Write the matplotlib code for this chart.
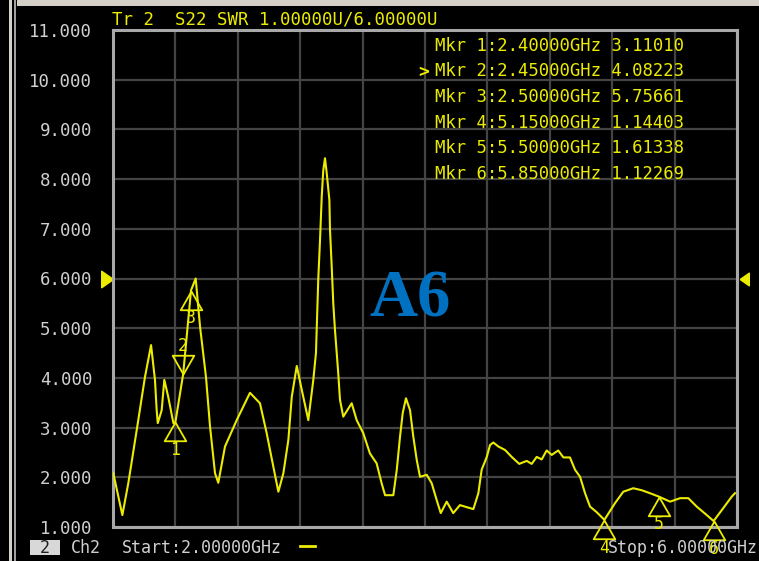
import matplotlib
matplotlib.use("Agg")
import matplotlib.pyplot as plt
from matplotlib.patches import Rectangle

# --- DATA ---
freq_ghz = [2.002, 2.060, 2.098, 2.152, 2.205, 2.244, 2.269, 2.280, 2.287, 2.312,
            2.329, 2.354, 2.387, 2.400, 2.450, 2.500, 2.530, 2.558, 2.596, 2.622,
            2.654, 2.675, 2.718, 2.793, 2.878, 2.942, 2.985, 3.028, 3.060, 3.092,
            3.124, 3.146, 3.178, 3.210, 3.252, 3.284, 3.301, 3.316, 3.327, 3.338,
            3.348, 3.359, 3.370, 3.387, 3.391, 3.402, 3.412, 3.423, 3.444, 3.455,
            3.476, 3.530, 3.562, 3.604, 3.647, 3.690, 3.722, 3.744, 3.797, 3.819,
            3.840, 3.857, 3.878, 3.904, 3.925, 3.947, 3.968, 4.011, 4.043, 4.075,
            4.101, 4.139, 4.181, 4.224, 4.256, 4.310, 4.342, 4.363, 4.396, 4.417,
            4.438, 4.470, 4.513, 4.556, 4.604, 4.652, 4.684, 4.716, 4.748, 4.780,
            4.812, 4.854, 4.887, 4.929, 4.962, 4.994, 5.026, 5.058, 5.100, 5.150,
            5.218, 5.271, 5.335, 5.389, 5.442, 5.500, 5.571, 5.635, 5.688, 5.742,
            5.806, 5.850, 5.912, 5.966, 5.987]
swr = [2.08, 1.24, 1.88, 2.95, 4.02, 4.66, 3.96, 3.35, 3.09, 3.35,
       3.96, 3.62, 3.09, 3.11, 4.08, 5.76, 6.00, 5.03, 4.02, 3.02,
       2.08, 1.89, 2.62, 3.15, 3.70, 3.49, 2.89, 2.21, 1.71, 2.08,
       2.75, 3.62, 4.24, 3.76, 3.15, 3.96, 4.50, 6.00, 6.77, 7.65,
       8.18, 8.42, 8.12, 7.58, 6.98, 6.24, 5.50, 4.96, 4.09, 3.56,
       3.22, 3.49, 3.15, 2.89, 2.48, 2.28, 1.88, 1.64, 1.64, 2.15,
       2.82, 3.29, 3.59, 3.35, 2.82, 2.35, 2.01, 2.05, 1.88, 1.54,
       1.28, 1.51, 1.28, 1.44, 1.41, 1.36, 1.68, 2.15, 2.41, 2.65,
       2.70, 2.62, 2.55, 2.41, 2.27, 2.33, 2.27, 2.41, 2.36, 2.54,
       2.45, 2.54, 2.40, 2.40, 2.15, 2.01, 1.68, 1.41, 1.30, 1.144,
       1.48, 1.71, 1.78, 1.74, 1.68, 1.61, 1.51, 1.58, 1.58, 1.41,
       1.24, 1.12, 1.38, 1.61, 1.68]

mkr_num = [1, 2, 3, 4, 5, 6]
mkr_freq = [2.40, 2.45, 2.50, 5.15, 5.50, 5.85]
mkr_swr = [3.11010, 4.08223, 5.75661, 1.14403, 1.61338, 1.12269]
active_mkr = 2

y_ticks = [1, 2, 3, 4, 5, 6, 7, 8, 9, 10, 11]
ref_level = 6.0
f_start, f_stop = 2.0, 6.0

# --- STYLE ---
W, H = 759, 561
YEL = "#ecec00"
TXT = "#d0d0d0"
GRID = "#444444"
FRAME = "#a8a8a8"
MONO = "DejaVu Sans Mono"


def px(x, y):
    # pixel position (from top-left) -> figure fraction
    return x / W, 1 - y / H


fig = plt.figure(figsize=(W / 100, H / 100), dpi=100, facecolor="black")
ax = fig.add_axes([113 / W, 34 / H, 624 / W, 497 / H], facecolor="black")

ax.set_xlim(f_start, f_stop)
ax.set_ylim(y_ticks[0], y_ticks[-1])
ax.set_xticks([f_start + i * (f_stop - f_start) / 10 for i in range(11)])
ax.set_yticks(y_ticks)
ax.set_xticklabels([])
ax.set_yticklabels([f"{v:.3f}" for v in y_ticks], family=MONO, fontsize=12.5, color=TXT)
ax.tick_params(length=0, pad=15)
ax.grid(True, color=GRID, linewidth=1.6)
for s in ax.spines.values():
    s.set_color(FRAME)
    s.set_linewidth(2.2)

# trace
ax.plot(freq_ghz, swr, color=YEL, linewidth=1.5, zorder=3)

# marker triangles (apex on the trace)
up_tri = [(0, 0), (-1.15, -2), (1.15, -2), (0, 0)]
down_tri = [(0, 0), (-1.15, 2), (1.15, 2), (0, 0)]
for n, f, v in zip(mkr_num, mkr_freq, mkr_swr):
    active = n == active_mkr
    ax.plot(f, v, marker=down_tri if active else up_tri, markersize=27,
            markerfacecolor="none", markeredgecolor=YEL, markeredgewidth=1.3,
            clip_on=False, zorder=4)
    ax.annotate(str(n), (f, v), xytext=(0, 20 if active else -20),
                textcoords="offset points", ha="center", va="center",
                family=MONO, fontsize=12, color=YEL, annotation_clip=False, zorder=4)

# reference level arrows on both sides
ax.plot(f_start, ref_level, marker=[(0, 0), (-1, 0.7), (-1, -0.7), (0, 0)],
        markersize=17, color=YEL, clip_on=False)
ax.plot(f_stop, ref_level, marker=[(0.3, 0), (1.3, 0.7), (1.3, -0.7), (0.3, 0)],
        markersize=17, color=YEL, clip_on=False, zorder=5)

# marker readout table
for i, (n, f, v) in enumerate(zip(mkr_num, mkr_freq, mkr_swr)):
    fig.text(*px(435, 46 + i * 25.5), f"Mkr {n}:{f:.5f}GHz {v:.5f}",
             family=MONO, fontsize=12.4, color=YEL, va="center", ha="left")
    if n == active_mkr:
        fig.text(*px(418, 46 + i * 25.5), ">", family=MONO, fontsize=13,
                 color=YEL, va="center", ha="left", weight="bold")

# header and footer
fig.text(*px(112, 19), "Tr 2  S22 SWR 1.00000U/6.00000U", family=MONO,
         fontsize=12.5, color=YEL, va="center", ha="left")
fig.add_artist(Rectangle(px(30, 555), 30 / W, 15 / H, transform=fig.transFigure,
                         facecolor="#d8d8d8", edgecolor="none"))
fig.text(*px(45, 548), "2", family=MONO, fontsize=12, color="#202020",
         va="center", ha="center")
fig.text(*px(71, 548), "Ch2", family=MONO, fontsize=12, color=TXT,
         va="center", ha="left")
fig.text(*px(122, 548), f"Start:{f_start:.5f}GHz", family=MONO, fontsize=12,
         color=TXT, va="center", ha="left")
fig.add_artist(plt.Line2D([300 / W, 315 / W], [1 - 546 / H] * 2,
                          transform=fig.transFigure, color=YEL, linewidth=2))
fig.text(*px(758, 548), f"Stop:{f_stop:.5f}GHz", family=MONO, fontsize=12,
         color=TXT, va="center", ha="right", zorder=1)

# window chrome
fig.add_artist(Rectangle(px(17, 6), (W - 17) / W, 6 / H, transform=fig.transFigure,
                         facecolor="#d4d0c8", edgecolor="none"))
fig.add_artist(Rectangle(px(9, H), 3 / W, 1, transform=fig.transFigure,
                         facecolor="#d4d0c8", edgecolor="none"))
fig.add_artist(Rectangle(px(14, H), 2 / W, 1, transform=fig.transFigure,
                         facecolor="#a0a0a0", edgecolor="none"))

# label in the plot
fig.text(*px(410, 300), "A6", family="Liberation Serif", weight="bold",
         fontsize=48, color="#0070c0", ha="center", va="center", zorder=6)

fig.savefig("out.png", dpi=100, facecolor="black")
